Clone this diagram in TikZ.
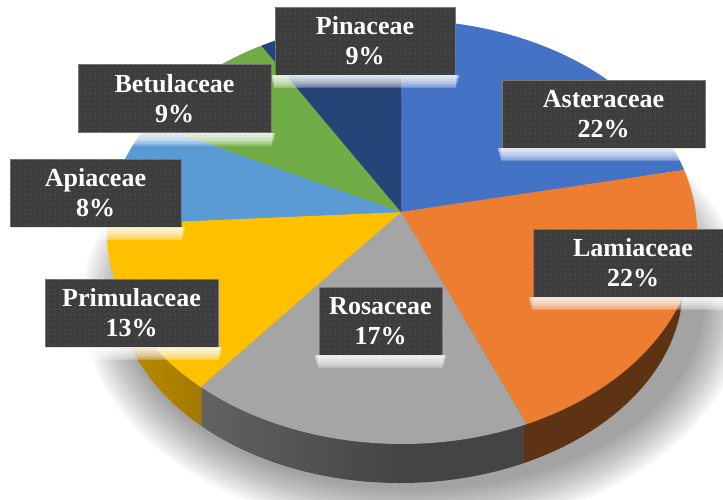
\documentclass[tikz,border=0pt]{standalone}
\usepackage{fontspec}
\setmainfont{Liberation Serif}
\usetikzlibrary{patterns.meta}
\definecolor{cAst}{HTML}{4472C4}
\definecolor{cLam}{HTML}{ED7D31}
\definecolor{cRos}{HTML}{A5A5A5}
\definecolor{cPrim}{HTML}{FFC000}
\definecolor{cApi}{HTML}{5B9BD5}
\definecolor{cBet}{HTML}{70AD47}
\definecolor{cPin}{HTML}{264478}
\definecolor{sLam}{HTML}{5E3314}
\definecolor{sRosA}{HTML}{626262}
\definecolor{sRosB}{HTML}{444444}
\definecolor{sPrimA}{HTML}{C39300}
\definecolor{sPrimB}{HTML}{A27800}
\definecolor{boxc}{HTML}{3D3D3D}
\definecolor{dotc}{HTML}{565656}
\definecolor{boxedge}{HTML}{7A7A7A}
\tikzset{
  lbl/.style={fill=boxc, draw=boxedge, line width=0.5pt, minimum height=68pt,
    inner sep=0pt, text=white, font=\fontsize{26}{30}\selectfont\bfseries, align=center,
    postaction={pattern={Dots[distance=5pt,radius=0.75pt]}, pattern color=dotc}},
  glow/.style={fill=white, opacity=0.22}
}
\newcommand{\glowbox}[1]{%
  \foreach \g in {1,...,7} {
    \fill[glow] ([xshift={-\g*0.6pt}]#1.south west) rectangle ([xshift={\g*0.6pt},yshift={-(15-1.8*\g)*1pt}]#1.south east);
  }}
\begin{document}
\begin{tikzpicture}[x=1pt,y=-1pt]
\useasboundingbox (0,0) rectangle (723,499);
\clip (0,0) rectangle (723,499);
% soft shadow
\foreach \i in {0,...,15} {
  \fill[black,opacity=0.028] (414,304) ellipse [x radius={290+2.8*\i}, y radius={186+2.8*\i}];
}
% side of the pie
\begin{scope}
  \clip (400,285) ellipse [x radius=283, y radius=198];
  \shade[left color=sPrimA, right color=sPrimB] (100,250) rectangle (202,499);
  \shade[left color=sRosA, right color=sRosB] (202,250) rectangle (400,499);
  \fill[sRosB] (399,250) rectangle (524,499);
  \fill[sLam] (524,250) rectangle (700,499);
\end{scope}
% top face
\coordinate (o) at (401,212);
\fill[cAst] (o) -- plot[domain=90:17,samples=60] ({402+295*cos(\x)},{232-212*sin(\x)}) -- cycle;
\fill[cLam] (o) -- plot[domain=17:-65,samples=60] ({402+295*cos(\x)},{232-212*sin(\x)}) -- cycle;
\fill[cRos] (o) -- plot[domain=-65:-133,samples=60] ({402+295*cos(\x)},{232-212*sin(\x)}) -- cycle;
\fill[cPrim] (o) -- plot[domain=-133:-182,samples=60] ({402+295*cos(\x)},{232-212*sin(\x)}) -- cycle;
\fill[cApi] (o) -- plot[domain=-182:-211,samples=60] ({402+295*cos(\x)},{232-212*sin(\x)}) -- cycle;
\fill[cBet] (o) -- plot[domain=-211:-241.5,samples=60] ({402+295*cos(\x)},{232-212*sin(\x)}) -- cycle;
\fill[cPin] (o) -- plot[domain=-241.5:-270,samples=60] ({402+295*cos(\x)},{232-212*sin(\x)}) -- cycle;
% labels
\node[lbl, minimum width=180pt] (pin) at (365,41) {Pinaceae\\9\%};
\glowbox{pin}
\node[lbl, minimum width=203pt] (ast) at (603.5,114) {Asteraceae\\22\%};
\glowbox{ast}
\node[lbl, minimum width=200pt] (lam) at (633,263) {Lamiaceae\\22\%};
\glowbox{lam}
\node[lbl, minimum width=123pt] (ros) at (380.5,321) {Rosaceae\\17\%};
\glowbox{ros}
\node[lbl, minimum width=173pt] (pri) at (131.5,313) {Primulaceae\\13\%};
\glowbox{pri}
\node[lbl, minimum width=171pt] (api) at (95.5,193) {Apiaceae\\8\%};
\glowbox{api}
\node[lbl, minimum width=193pt] (bet) at (174.5,98.5) {Betulaceae\\9\%};
\glowbox{bet}
\end{tikzpicture}
\end{document}
